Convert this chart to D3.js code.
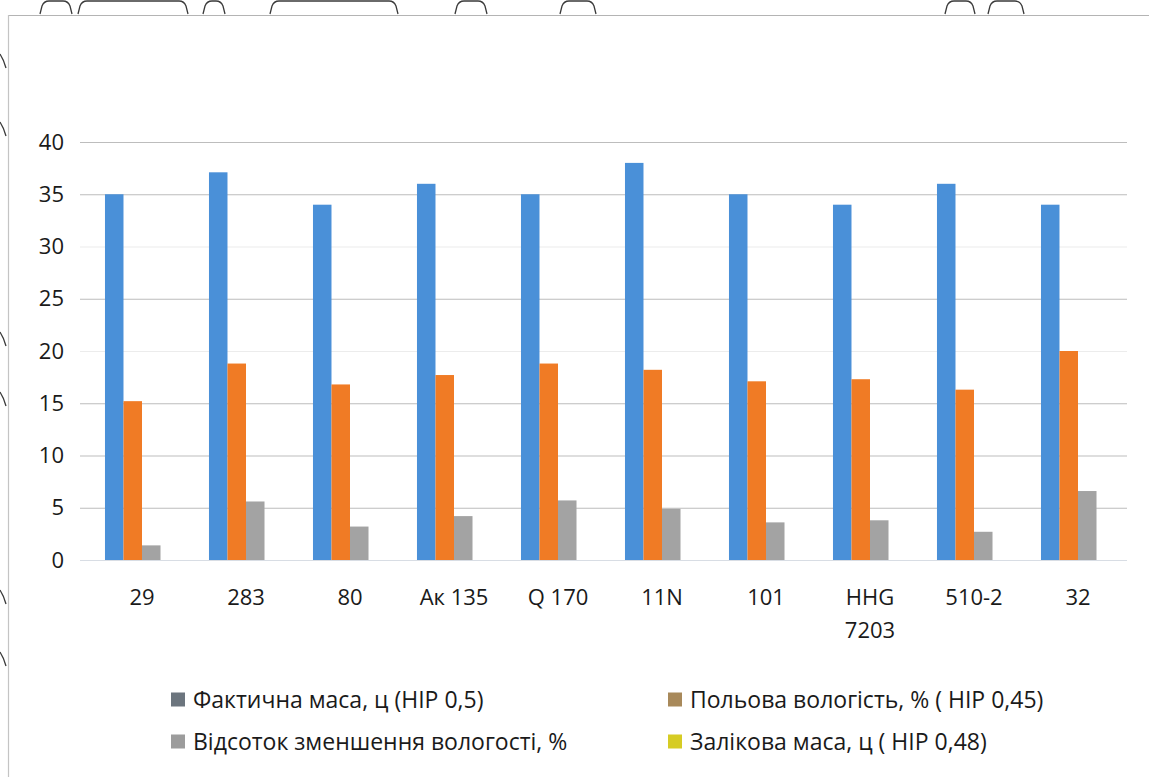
<!DOCTYPE html>
<html>
<head>
<meta charset="utf-8">
<script src="https://cdn.jsdelivr.net/npm/d3@7/dist/d3.min.js"></script>
<style>
  html, body { margin: 0; padding: 0; background: #ffffff; }
  svg { display: block; }
  text { font-family: "Open Sans", "Noto Sans", sans-serif; fill: #1a1a1a; }
</style>
</head>
<body>
<svg id="chart" width="1149" height="777"></svg>
<script>
// Grain varieties (category axis)
const categories = ["29", "283", "80", "Ак 135", "Q 170", "11N", "101", "HHG 7203", "510-2", "32"];

// Series values per variety
const faktychnaMasa = [35.0, 37.1, 34.0, 36.0, 35.0, 38.0, 35.0, 34.0, 36.0, 34.0];
const polovaVologist = [15.2, 18.8, 16.8, 17.7, 18.8, 18.2, 17.1, 17.3, 16.3, 20.0];
const vidsotokZmenshennya = [1.4, 5.6, 3.2, 4.2, 5.7, 4.9, 3.6, 3.8, 2.7, 6.6];
const zalikovaMasa = [0, 0, 0, 0, 0, 0, 0, 0, 0, 0];

// Legend labels
const seriesNames = [
  "Фактична маса, ц (НІР 0,5)",
  "Польова вологість, % ( НІР 0,45)",
  "Відсоток зменшення вологості, %",
  "Залікова маса, ц ( НІР 0,48)"
];

// Value axis ticks
const yTicks = [0, 5, 10, 15, 20, 25, 30, 35, 40];

const seriesValues = [faktychnaMasa, polovaVologist, vidsotokZmenshennya, zalikovaMasa];
const barColors = ["#4a90d8", "#f07b25", "#a3a3a3", "#e6c81e"];
const swatchColors = ["#6c757e", "#a8895a", "#9c9c9c", "#d6cc24"];

const svg = d3.select("#chart");

// Page frame
svg.append("line").attr("x1", 9).attr("x2", 1149).attr("y1", 15.5).attr("y2", 15.5)
  .attr("stroke", "#b4b4b4").attr("stroke-width", 1.2);
svg.append("line").attr("x1", 8.5).attr("x2", 8.5).attr("y1", 15).attr("y2", 777)
  .attr("stroke", "#c4c4c4").attr("stroke-width", 1.2);

// Bracket strokes along the top margin of the page
const brackets = [[40, 72], [78, 188], [203, 225], [270, 398], [455, 487], [560, 596], [945, 975], [988, 1024]];
const bracketG = svg.append("g").attr("fill", "none").attr("stroke", "#3a3a3a").attr("stroke-width", 1.3);
brackets.forEach(([a, b]) => {
  bracketG.append("path")
    .attr("d", `M${a},14 L${a + 2},6 Q${a + 4},1 ${a + 9},1 L${b - 9},1 Q${b - 4},1 ${b - 2},6 L${b},14`);
});
// Small ticks on the left margin
const leftMarks = [62, 130, 340, 400, 598, 660];
const leftG = svg.append("g").attr("fill", "none").attr("stroke", "#3a3a3a").attr("stroke-width", 1.3);
leftMarks.forEach(y => {
  leftG.append("path").attr("d", `M0,${y - 8} Q4,${y - 2} 6,${y + 6}`);
});

const plotLeft = 80, plotRight = 1127;

const y = d3.scaleLinear().domain([0, 40]).range([560, 142]);

const x0 = d3.scaleBand()
  .domain(categories)
  .range([90, 1130])
  .paddingInner(0.288)
  .paddingOuter(0.144);

const x1 = d3.scaleBand()
  .domain(d3.range(seriesValues.length))
  .range([0, x0.bandwidth()]);

// Gridlines and value labels
const yAxis = d3.axisLeft(y)
  .tickValues(yTicks)
  .tickSize(-(plotRight - plotLeft))
  .tickPadding(16)
  .tickFormat(d3.format("d"));

const yG = svg.append("g").attr("transform", `translate(${plotLeft},0)`).call(yAxis);
yG.select(".domain").remove();
yG.selectAll(".tick line")
  .attr("stroke", d => (d === 20 || d === 30) ? "#ececec" : (d === 0 ? "#d8dde4" : "#bdbdbd"))
  .attr("stroke-width", 1.2);
yG.selectAll(".tick text")
  .attr("font-size", 22)
  .attr("font-family", "'Open Sans', sans-serif")
  .attr("fill", "#1a1a1a");

// Bars
const groups = svg.append("g").selectAll("g")
  .data(categories)
  .join("g")
  .attr("transform", d => `translate(${x0(d)},0)`);

groups.selectAll("rect")
  .data((c, i) => seriesValues.map((vals, s) => ({ s, v: vals[i] })))
  .join("rect")
  .attr("x", d => x1(d.s))
  .attr("width", x1.bandwidth())
  .attr("y", d => y(d.v))
  .attr("height", d => y(0) - y(d.v))
  .attr("fill", d => barColors[d.s]);

// Category labels
const xAxis = d3.axisBottom(x0).tickSize(0).tickPadding(0);
const xG = svg.append("g").attr("transform", "translate(0,560)").call(xAxis);
xG.select(".domain").remove();
xG.selectAll(".tick text").each(function (d) {
  const t = d3.select(this);
  t.text(null).attr("y", 0).attr("dy", null)
    .attr("font-size", 22)
    .attr("font-family", "'Open Sans', sans-serif")
    .attr("fill", "#1a1a1a");
  const words = d === "HHG 7203" ? ["HHG", "7203"] : [d];
  words.forEach((w, i) => {
    t.append("tspan").attr("x", 0).attr("y", 45 + i * 33).text(w);
  });
});

// Legend
const legendPos = [[171, 700], [668, 700], [171, 742], [668, 742]];
const legend = svg.append("g");
seriesNames.forEach((name, i) => {
  const [lx, ly] = legendPos[i];
  legend.append("rect")
    .attr("x", lx).attr("y", ly - 7.5)
    .attr("width", 14).attr("height", 14)
    .attr("fill", swatchColors[i]);
  legend.append("text")
    .attr("x", lx + 22).attr("y", ly + 8)
    .attr("font-size", 23)
    .text(name);
});
</script>
</body>
</html>
